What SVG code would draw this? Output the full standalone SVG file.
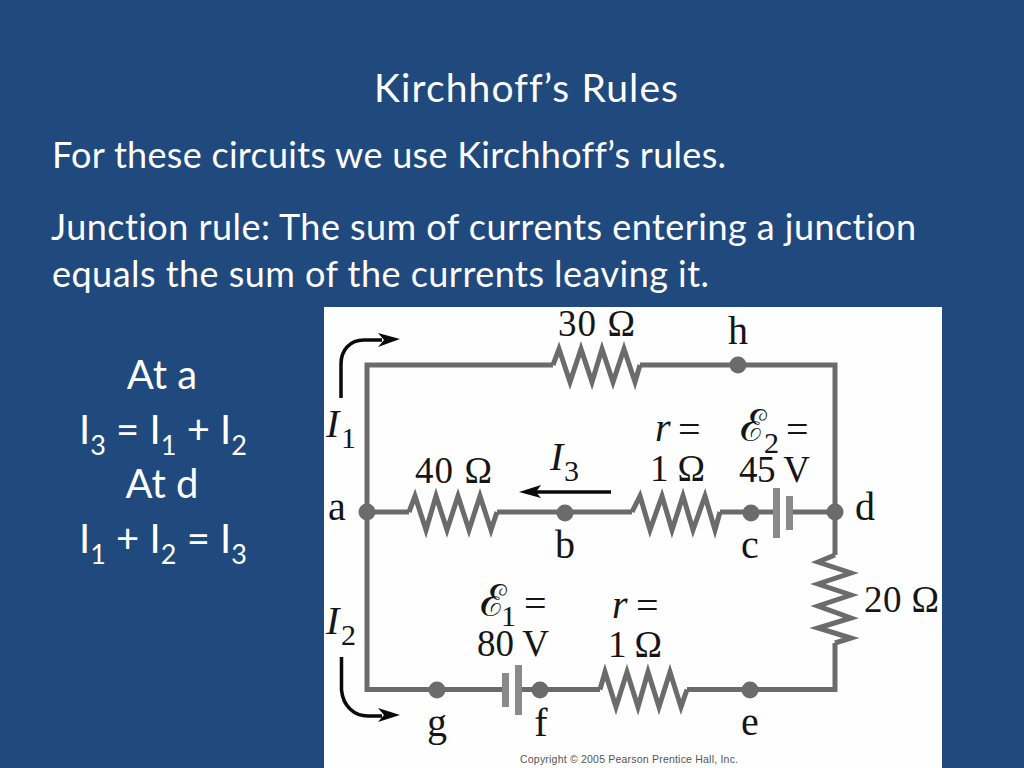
<svg xmlns="http://www.w3.org/2000/svg" width="1024" height="768" viewBox="0 0 1024 768">
<style>
.t{font-family:"Lato","Open Sans",sans-serif;fill:#fff;font-variant-ligatures:none}
.s{font-family:"Liberation Serif",serif;fill:#151515;font-size:37px}
.l{font-size:40px}
.q{font-size:40px}
.u{font-size:30px}
.e{font-family:"DejaVu Serif","Noto Sans",serif;font-size:44px}
.i{font-style:italic}
.w{fill:none;stroke:#6b6b6b;stroke-width:5;stroke-linejoin:miter}
.d{fill:#6b6b6b}
.p{fill:#8a8a8a}
.a{fill:none;stroke:#0a0a0a;stroke-width:3.5}
.h{fill:#0a0a0a}
.m{text-anchor:middle}
</style>
<rect width="1024" height="768" fill="#20497d"/>
<g id="title"><text class="t" x="374" y="102" font-size="39" textLength="304" lengthAdjust="spacing">Kirchhoff’s Rules</text></g>
<g id="body">
<text class="t" x="52" y="168" font-size="36" textLength="674" lengthAdjust="spacing">For these circuits we use Kirchhoff’s rules.</text>
<text class="t" x="51" y="240" font-size="36" textLength="865" lengthAdjust="spacing">Junction rule: The sum of currents entering a junction</text>
<text class="t" x="52" y="287" font-size="36" textLength="657" lengthAdjust="spacing">equals the sum of the currents leaving it.</text>
</g>
<g id="equations" class="t" font-size="40" text-anchor="middle">
<text x="162" y="389">At a</text>
<text x="163" y="444">I<tspan font-size="27" dy="11">3</tspan><tspan dy="-11"> = I</tspan><tspan font-size="27" dy="11">1</tspan><tspan dy="-11"> + I</tspan><tspan font-size="27" dy="11">2</tspan></text>
<text x="162" y="498">At d</text>
<text x="163" y="553">I<tspan font-size="27" dy="11">1</tspan><tspan dy="-11"> + I</tspan><tspan font-size="27" dy="11">2</tspan><tspan dy="-11"> = I</tspan><tspan font-size="27" dy="11">3</tspan></text>
</g>
<rect id="figure" x="324" y="307" width="618" height="461" fill="#fefefe"/>
<g id="connectors">
<path class="w" d="M553 365H367V689.500H503M522 689.500H600M687 689.500H835V643M835 555V365H640"/>
<path class="w" d="M367 512H409M497 512H632M720 512H773M792 512H835"/>
</g>
<g id="R30"><path class="w" d="M553 365L559 349L570 382L581 349L592 382L602 349L613 382L624 349L635 382L640 365"/><text class="s" x="558" y="336" textLength="77">30 Ω</text></g>
<g id="R40"><path class="w" d="M409 512L415 496L426 530L436 496L447 530L458 496L469 530L480 496L491 530L497 512"/><text class="s" x="415" y="483" textLength="77">40 Ω</text></g>
<g id="r2"><path class="w" d="M632 512L640 496L650 530L662 496L672 530L683 496L693 530L705 496L715 530L720 512"/><text class="s i l" x="655" y="441">r</text><text class="s q" x="678" y="443">=</text><text class="s" x="650" y="481" textLength="55">1 Ω</text></g>
<g id="emf2"><rect class="p" x="773" y="488" width="7" height="50"/><rect class="p" x="786" y="496" width="7" height="34"/><text class="s e" x="740" y="441">ℰ</text><text class="s u" x="764" y="453">2</text><text class="s q" x="786" y="443">=</text><text class="s" x="739" y="482" textLength="71">45 V</text></g>
<g id="R20"><path class="w" d="M835 555L818 562L851 573L818 584L851 595L818 606L851 618L818 628L851 638L835 643"/><text class="s" x="864" y="612" textLength="75">20 Ω</text></g>
<g id="emf1"><rect class="p" x="502" y="673" width="7" height="34"/><rect class="p" x="515" y="665" width="7" height="50"/><text class="s e" x="480" y="616">ℰ</text><text class="s u" x="501" y="626">1</text><text class="s q" x="524" y="617">=</text><text class="s" x="477" y="656" textLength="72">80 V</text></g>
<g id="r1"><path class="w" d="M600 689.500L605 672L616 707L627 672L638 707L648 672L659 707L670 672L681 707L687 689.500"/><text class="s i l" x="612" y="618">r</text><text class="s q" x="636" y="619">=</text><text class="s" x="608" y="657" textLength="54">1 Ω</text></g>
<g id="node-a"><circle class="d" cx="367" cy="512" r="8.500"/><text class="s l m" x="337" y="520">a</text></g>
<g id="node-b"><circle class="d" cx="565" cy="513" r="8.500"/><text class="s l m" x="565" y="558">b</text></g>
<g id="node-c"><circle class="d" cx="751" cy="513" r="8.500"/><text class="s l m" x="750" y="558">c</text></g>
<g id="node-d"><circle class="d" cx="835" cy="512" r="8.500"/><text class="s l m" x="865" y="520">d</text></g>
<g id="node-h"><circle class="d" cx="738" cy="365" r="8.500"/><text class="s l m" x="738" y="344">h</text></g>
<g id="node-g"><circle class="d" cx="437" cy="690" r="8.500"/><text class="s l m" x="437" y="736">g</text></g>
<g id="node-f"><circle class="d" cx="540" cy="690" r="8.500"/><text class="s l m" x="541" y="736">f</text></g>
<g id="node-e"><circle class="d" cx="750" cy="690" r="8.500"/><text class="s l m" x="750" y="735">e</text></g>
<g id="I1"><path class="a" d="M341 398V364C341 350 350 340 364 340H382"/><path class="h" d="M400 339L378 333L384 340L378 347Z"/><text class="s i l" x="326" y="437">I</text><text class="s u" x="341" y="448">1</text></g>
<g id="I2"><path class="a" d="M341.500 657V690C343 706 354 716 368 716H382"/><path class="h" d="M400 715L378 708L384 715L378 722Z"/><text class="s i l" x="326" y="634">I</text><text class="s u" x="341" y="645">2</text></g>
<g id="I3"><path class="a" d="M611 492H535"/><path class="h" d="M519 492L541 485L536 492L541 498Z"/><text class="s i l" x="550" y="470">I</text><text class="s u" x="564" y="481">3</text></g>
<text id="copyright" x="520" y="763" font-family="Liberation Sans,sans-serif" font-size="10.500" fill="#555" textLength="218">Copyright © 2005 Pearson Prentice Hall, Inc.</text>
</svg>
